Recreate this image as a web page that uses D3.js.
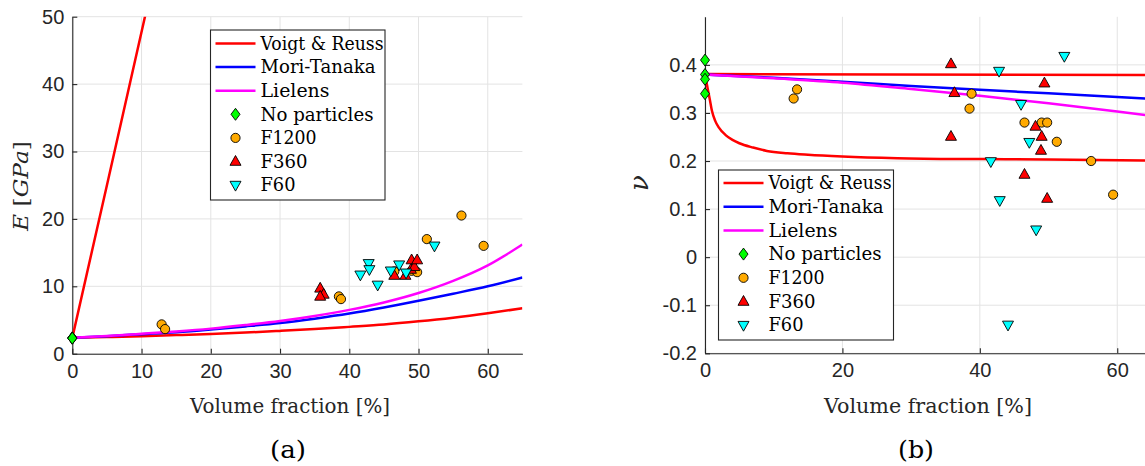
<!DOCTYPE html>
<html><head><meta charset="utf-8">
<script src="https://cdn.jsdelivr.net/npm/d3@7"></script>
<style>body{margin:0;background:#fff}svg{display:block}
.serif{font-family:"DejaVu Serif","Liberation Serif","Noto Serif",serif}
</style>
</head><body><svg id="c" width="1145" height="466"></svg>
<script>
// ---------- data ----------
const legendNames = ["Voigt & Reuss", "Mori-Tanaka", "Lielens", "No particles", "F1200", "F360", "F60"];

// (a) Young's modulus curves
const vfCurveE = [0,5,10,15,20,25,30,35,40,45,50,55,60,65];
const eReuss   = [2.35,2.47,2.6,2.76,2.93,3.13,3.38,3.65,3.98,4.33,4.8,5.35,6.0,6.73];
const eMori    = [2.35,2.6,2.9,3.2,3.6,4.05,4.55,5.2,5.95,6.85,7.85,8.9,10.0,11.3];
const eLielens = [2.35,2.62,2.95,3.3,3.72,4.25,4.85,5.6,6.5,7.6,9.0,10.8,13.1,16.2];
const vfVoigtE = [0,5,11];
const eVoigt   = [2.35,25.0,52.3];

// (b) Poisson ratio curves
const vfNuVoigt = [0,65];
const nuVoigt   = [0.381,0.379];
const vfNuReuss = [0,0.2,0.4,0.7,1,1.5,2,3,4,5,7,9,12,15,20,28,40,50,65];
const nuReuss   = [0.38,0.365,0.35,0.328,0.305,0.283,0.27,0.254,0.244,0.237,0.228,0.221,0.216,0.213,0.2095,0.206,0.204,0.203,0.201];
const vfNuModel = [0,10,20,30,40,50,60,65];
const nuMori    = [0.380,0.373,0.365,0.356,0.348,0.341,0.333,0.3295];
const nuLielens = [0.380,0.372,0.363,0.350,0.336,0.320,0.303,0.294];

// measurements
const noPartVf = [0,0,0,0];
const noPartE  = [2.3,2.35,2.35,2.3];
const noPartNu = [0.41,0.38,0.37,0.34];

const f1200Vf = [12.9,13.4,38.5,38.8,46.5,49.0,49.8,51.2,56.2,59.4];
const f1200E  = [4.35,3.65,8.5,8.1,12.2,12.3,12.1,17.0,20.5,16.0];
const f1200Nu = [0.330,0.349,0.309,0.340,0.280,0.280,0.280,0.240,0.200,0.130];

const f360Vf = [35.8,36.3,35.8,46.5,48.1,48.9,49.0,49.4,49.8];
const f360E  = [9.7,8.8,8.5,11.6,11.6,12.5,13.9,12.9,13.9];
const f360Nu = [0.402,0.342,0.251,0.172,0.272,0.222,0.251,0.362,0.122];

const f60Vf = [41.6,42.8,42.9,44.1,46.0,47.2,48.2,52.3];
const f60E  = [11.7,13.4,12.5,10.2,12.3,13.2,12.0,16.0];
const f60Nu = [0.199,0.387,0.118,-0.141,0.318,0.239,0.057,0.418];

const xTicksA = [0,10,20,30,40,50,60];
const yTicksA = [0,10,20,30,40,50];
const xTicksB = [0,20,40,60];
const yTicksB = [-0.2,-0.1,0,0.1,0.2,0.3,0.4];

// ---------- style ----------
const AX = "#262626", GRID = "#e3e3e3";
const cRed = "#ff0000", cBlue = "#0000ff", cMag = "#ff00ff";
const mk = {
  diamond: {fill:"#00ff00", path:"M0,-6L4.5,0L0,6L-4.5,0Z"},
  circle:  {fill:"#ffaa00", path:d3.symbol(d3.symbolCircle, Math.PI*4.6*4.6)()},
  up:      {fill:"#ff0000", path:"M0,-6L5.5,3.8L-5.5,3.8Z"},
  down:    {fill:"#00ffff", path:"M0,6L5.5,-3.8L-5.5,-3.8Z"}
};

const svg = d3.select("#c");
const zip = (a,b) => a.map((v,i)=>[v,b[i]]);

function panel(o){
  const g = svg.append("g");
  const x = d3.scaleLinear().domain(o.xDom).range(o.xRange);
  const y = d3.scaleLinear().domain(o.yDom).range(o.yRange);
  const [x0,x1] = o.xRange, [y0,y1] = o.yRange;
  g.append("g").selectAll("line").data(o.xTicks).join("line")
    .attr("x1",d=>x(d)).attr("x2",d=>x(d)).attr("y1",y0).attr("y2",y1)
    .attr("stroke",GRID).attr("stroke-width",1);
  g.append("g").selectAll("line").data(o.yTicks).join("line")
    .attr("y1",d=>y(d)).attr("y2",d=>y(d)).attr("x1",x0).attr("x2",x1)
    .attr("stroke",GRID).attr("stroke-width",1);
  const ax = g.append("g").attr("transform",`translate(0,${y0})`)
    .call(d3.axisBottom(x).tickValues(o.xTicks).tickSizeInner(-5).tickSizeOuter(0).tickPadding(8).tickFormat(d=>String(d)));
  const ay = g.append("g").attr("transform",`translate(${x0},0)`)
    .call(d3.axisLeft(y).tickValues(o.yTicks).tickSizeInner(-5).tickSizeOuter(0).tickPadding(8).tickFormat(d=>String(d)));
  [ax,ay].forEach(a=>{
    a.selectAll("path,line").attr("stroke",AX).attr("stroke-width",1.1);
    a.selectAll("text").attr("fill",AX).style("font-family","'Liberation Sans',Arial,sans-serif").style("font-size","20px");
  });
  ax.selectAll("text").attr("dy","0.8em");
  const cid = "clip"+o.id;
  svg.append("clipPath").attr("id",cid).append("rect")
    .attr("x",x0).attr("y",y1).attr("width",x1-x0).attr("height",y0-y1);
  const pl = g.append("g").attr("clip-path",`url(#${cid})`);
  const line = d3.line().x(d=>x(d[0])).y(d=>y(d[1])).curve(d3.curveMonotoneX);
  o.lines.forEach(l=>{
    pl.append("path").attr("d",line(l.pts)).attr("fill","none")
      .attr("stroke",l.color).attr("stroke-width",2.5).attr("stroke-linejoin","round");
  });
  const mg = g.append("g");
  o.points.forEach(p=>{
    mg.append("g").selectAll("path").data(p.pts).join("path")
      .attr("d",mk[p.shape].path).attr("transform",d=>`translate(${x(d[0])},${y(d[1])})`)
      .attr("fill",mk[p.shape].fill).attr("stroke","#000").attr("stroke-width",0.9);
  });
  const L = o.legend;
  const lg = g.append("g");
  lg.append("rect").attr("x",L.x).attr("y",L.y).attr("width",L.w).attr("height",L.h)
    .attr("fill","#fff").attr("stroke",AX).attr("stroke-width",1.1);
  const items = [
    {t:"line",c:cRed},{t:"line",c:cBlue},{t:"line",c:cMag},
    {t:"diamond"},{t:"circle"},{t:"up"},{t:"down"}];
  items.forEach((it,i)=>{
    const yy = L.y + L.first + i*L.step;
    if(it.t==="line"){
      lg.append("line").attr("x1",L.x+5).attr("x2",L.x+45).attr("y1",yy).attr("y2",yy)
        .attr("stroke",it.c).attr("stroke-width",2.5);
    } else {
      lg.append("path").attr("d",mk[it.t].path).attr("transform",`translate(${L.x+25},${yy})`)
        .attr("fill",mk[it.t].fill).attr("stroke","#000").attr("stroke-width",0.9);
    }
    lg.append("text").attr("class","serif").attr("x",L.x+50).attr("y",yy).attr("dy","0.33em")
      .attr("textLength", legendW[i]).attr("lengthAdjust","spacingAndGlyphs")
      .style("font-size","19px").attr("fill","#000").text(legendNames[i]);
  });
  g.append("text").attr("class","serif").attr("x",o.xLab.x).attr("y",o.xLab.y).attr("text-anchor","middle")
    .style("font-size","21px")
    .attr("textLength",o.xLab.w).attr("lengthAdjust","spacingAndGlyphs")
    .attr("fill",AX).text("Volume fraction [%]");
  g.append("text").attr("class","serif").attr("x",o.cap.x).attr("y",o.cap.y).attr("text-anchor","middle")
    .style("font-size","25px").attr("textLength",36).attr("lengthAdjust","spacingAndGlyphs")
    .attr("fill","#000").text(o.cap.t);
  return g;
}
// legend text widths as seen in reference (px)
const legendW = [123, 115, 69, 113, 56, 47, 35];

const gA = panel({
  id:"a", xDom:[0,65], xRange:[72.3,522.4], yDom:[0,50], yRange:[353.7,16.7],
  xTicks:xTicksA, yTicks:yTicksA,
  lines:[
    {color:cRed, pts:zip(vfVoigtE,eVoigt)},
    {color:cRed, pts:zip(vfCurveE,eReuss)},
    {color:cBlue, pts:zip(vfCurveE,eMori)},
    {color:cMag, pts:zip(vfCurveE,eLielens)}],
  points:[
    {shape:"diamond", pts:zip(noPartVf,noPartE)},
    {shape:"circle", pts:zip(f1200Vf,f1200E)},
    {shape:"up", pts:zip(f360Vf,f360E)},
    {shape:"down", pts:zip(f60Vf,f60E)}],
  legend:{x:210.5,y:30,w:174.5,h:170,first:13.5,step:23.6},
  xLab:{x:290,y:413,w:200},
  cap:{x:288,y:458,t:"(a)"}
});
const tA = gA.append("text").attr("class","serif").attr("transform","translate(28,186) rotate(-90)").attr("text-anchor","middle")
  .style("font-size","21px").attr("fill",AX).attr("textLength",90).attr("lengthAdjust","spacingAndGlyphs");
tA.append("tspan").style("font-style","italic").text("E");
tA.append("tspan").text(" [");
tA.append("tspan").style("font-style","italic").text("GPa");
tA.append("tspan").text("]");

const gB = panel({
  id:"b", xDom:[0,65], xRange:[705,1151.6], yDom:[-0.2,0.5], yRange:[353.3,16.8],
  xTicks:xTicksB, yTicks:yTicksB,
  lines:[
    {color:cRed, pts:zip(vfNuVoigt,nuVoigt)},
    {color:cRed, pts:zip(vfNuReuss,nuReuss)},
    {color:cBlue, pts:zip(vfNuModel,nuMori)},
    {color:cMag, pts:zip(vfNuModel,nuLielens)}],
  points:[
    {shape:"diamond", pts:zip(noPartVf,noPartNu)},
    {shape:"circle", pts:zip(f1200Vf,f1200Nu)},
    {shape:"up", pts:zip(f360Vf,f360Nu)},
    {shape:"down", pts:zip(f60Vf,f60Nu)}],
  legend:{x:718.5,y:170,w:175,h:170,first:13,step:23.7},
  xLab:{x:928,y:413,w:208},
  cap:{x:916,y:458,t:"(b)"}
});
gB.append("text").attr("class","serif").attr("transform","translate(648,183) rotate(-90)").attr("text-anchor","middle")
  .style("font-size","26px").style("font-style","italic").attr("fill",AX).text("ν");
</script></body></html>
